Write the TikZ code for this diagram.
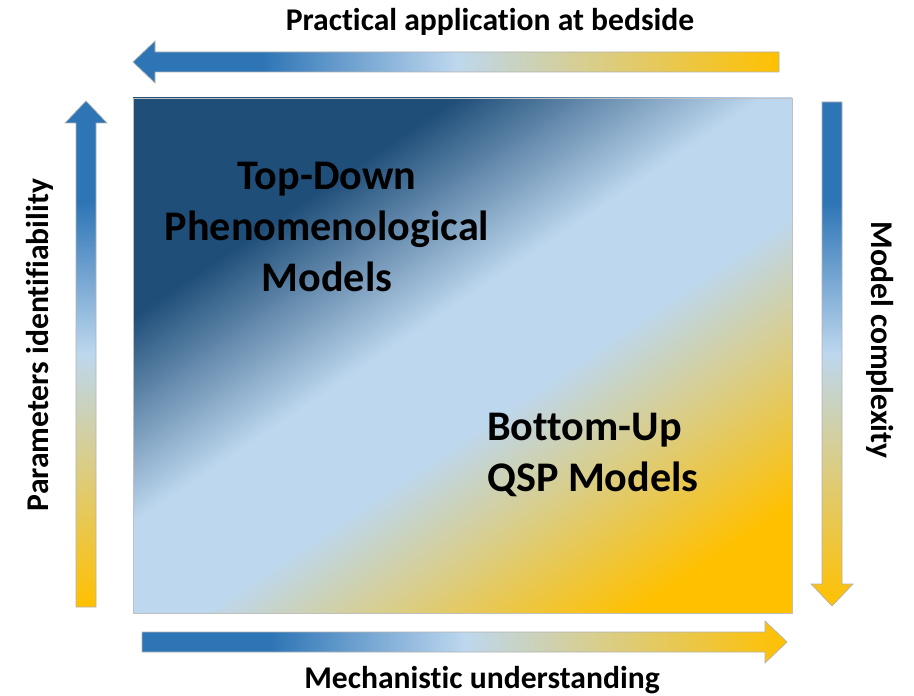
\documentclass[tikz,border=0pt]{standalone}
\usepackage{fontspec}
\setmainfont{Carlito}[Ligatures={NoCommon}]
\usepackage{tikz}
\usetikzlibrary{positioning,calc}
\usepackage{xcolor}

\definecolor{navyblue}{RGB}{31,78,121}
\definecolor{arrowblue}{RGB}{46,117,182}
\definecolor{paleblue}{RGB}{189,215,238}
\definecolor{gold}{RGB}{255,192,0}

\pgfdeclarehorizontalshading{quadrant}{100bp}{color(0bp)=(navyblue); color(31bp)=(navyblue); color(46bp)=(paleblue); color(56bp)=(paleblue); color(77bp)=(gold); color(100bp)=(gold)}
\pgfdeclarehorizontalshading{axisfade}{100bp}{color(0bp)=(arrowblue); color(25bp)=(arrowblue); color(35bp)=(arrowblue); color(50bp)=(paleblue); color(75bp)=(gold); color(100bp)=(gold)}

\begin{document}
\begin{tikzpicture}[x=0.2mm, y=0.2mm,
    axislabel/.style={font=\bfseries\fontsize{18}{21}\selectfont},
    boxlabel/.style={font=\bfseries\fontsize{24}{29}\selectfont},
    axisarrow/.style={shading=axisfade, draw=gray!60, line width=0.4pt}]
    \useasboundingbox (0,0) rectangle (914,695);

    % the model map
    \shade[shading=quadrant, shading angle=-56, draw=gray!50, line width=0.4pt] (133,82) rectangle (792,597);

    \node[boxlabel, align=center] (topdown) at (327,468) {Top-Down\\Phenomenological\\Models};
    \node[boxlabel, align=left, anchor=west] (bottomup) at (481,240) {Bottom-Up\\QSP Models};

    % arrows round the map
    \shade[axisarrow, shading angle=0] (779,623) -- (155,623) -- (155,612) -- (133,633) -- (155,654) -- (155,643) -- (779,643) -- cycle;
    \shade[axisarrow, shading angle=0] (142,43) -- (765,43) -- (765,32) -- (787,53) -- (765,74) -- (765,63) -- (142,63) -- cycle;
    \shade[axisarrow, shading angle=-90] (76,88) -- (76,572) -- (65,572) -- (86,594) -- (107,572) -- (96,572) -- (96,88) -- cycle;
    \shade[axisarrow, shading angle=-90] (822,593) -- (822,111) -- (811,111) -- (832,89) -- (853,111) -- (842,111) -- (842,593) -- cycle;

    \node[axislabel] (bedside) at (490,673) {Practical application at bedside};
    \node[axislabel] (mechanism) at (482,15) {Mechanistic understanding};
    \node[axislabel, rotate=90] (identifiability) at (40,350) {Parameters identifiability};
    \node[axislabel, rotate=-90] (complexity) at (880,355) {Model complexity};
\end{tikzpicture}
\end{document}
